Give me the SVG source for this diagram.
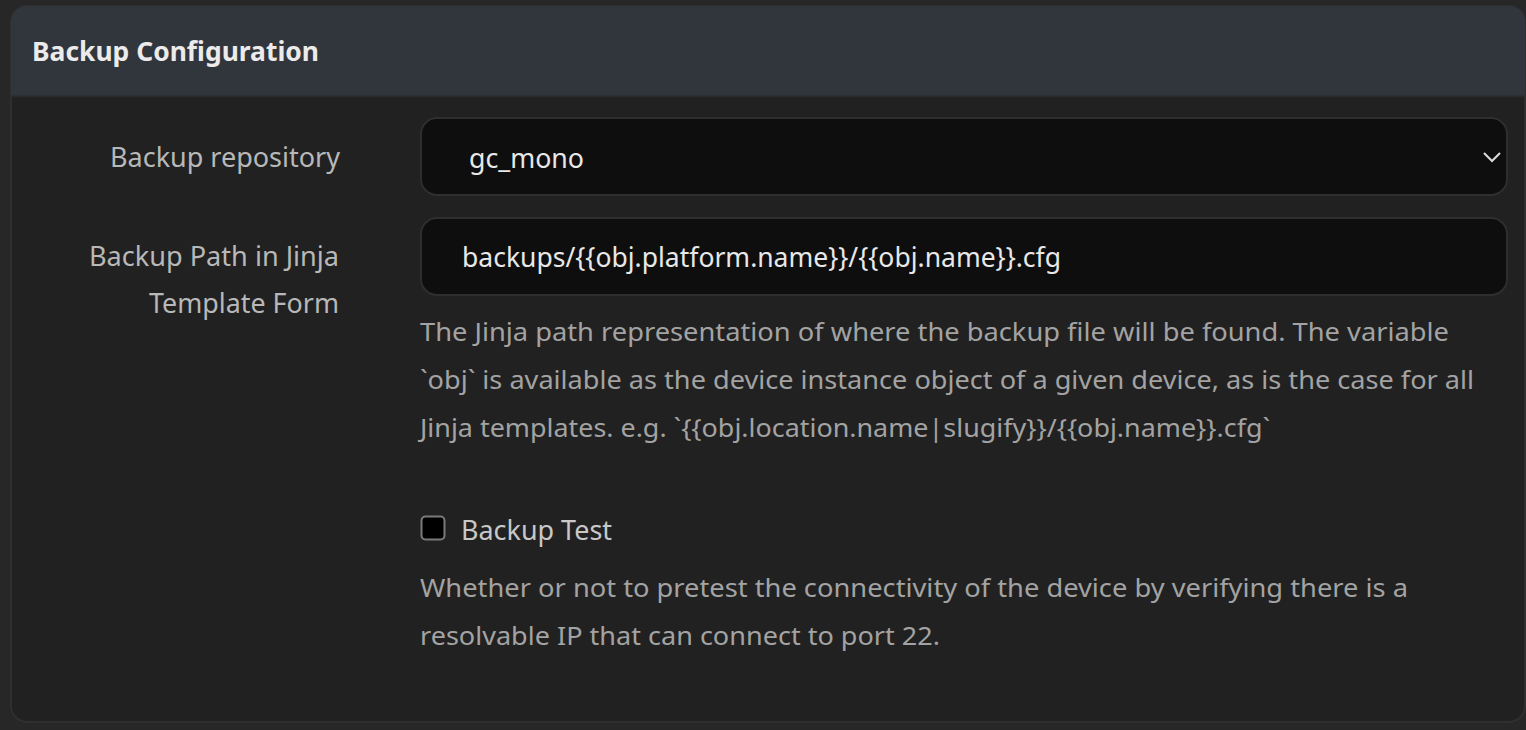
<svg xmlns="http://www.w3.org/2000/svg" width="1526" height="730" viewBox="0 0 1526 730">
<style>
text{font-family:"Noto Sans","Open Sans","Liberation Sans",sans-serif}
.hdr{font-size:27px;font-weight:700;fill:#ebebeb}
.lbl{font-size:27px;fill:#b8b8b8;text-anchor:end}
.val{font-size:27px;fill:#e8e8e8}
.help{font-size:26px;fill:#a3a3a3}
.box{fill:#0e0e0e;stroke:#2e2e2e;stroke-width:2}
</style>
<rect x="0" y="0" width="1526" height="730" fill="#272727"/>
<g id="panel">
<rect x="11" y="6" width="1514" height="716" rx="16" fill="#212121" stroke="#2f2f2f" stroke-width="2"/>
<path d="M11 96 V22 A16 16 0 0 1 27 6 H1509 A16 16 0 0 1 1525 22 V96 Z" fill="#31353c"/>
<line x1="11" y1="96.5" x2="1525" y2="96.5" stroke="#2a2a2a" stroke-width="2"/>
<text class="hdr" x="32" y="61" textLength="287" lengthAdjust="spacingAndGlyphs">Backup Configuration</text>
</g>
<g id="repo">
<text class="lbl" x="340" y="167" textLength="230" lengthAdjust="spacingAndGlyphs">Backup repository</text>
<rect class="box" x="421" y="118" width="1086" height="77" rx="16"/>
<text class="val" x="469" y="168" textLength="115" lengthAdjust="spacingAndGlyphs">gc_mono</text>
<path d="M1484 153 L1492 161 L1500 153" fill="none" stroke="#dcdcdc" stroke-width="2"/>
</g>
<g id="path">
<text class="lbl" x="339" y="266" textLength="250" lengthAdjust="spacingAndGlyphs">Backup Path in Jinja</text>
<text class="lbl" x="339" y="313" textLength="190" lengthAdjust="spacingAndGlyphs">Template Form</text>
<rect class="box" x="421" y="218" width="1086" height="77" rx="16"/>
<text class="val" x="462" y="267" textLength="599" lengthAdjust="spacingAndGlyphs">backups/{{obj.platform.name}}/{{obj.name}}.cfg</text>
<text class="help" x="420" y="341" textLength="1029" lengthAdjust="spacingAndGlyphs">The Jinja path representation of where the backup file will be found. The variable</text>
<text class="help" x="420" y="389" textLength="1054" lengthAdjust="spacingAndGlyphs">`obj` is available as the device instance object of a given device, as is the case for all</text>
<text class="help" x="420" y="437" textLength="850" lengthAdjust="spacingAndGlyphs">Jinja templates. e.g. `{{obj.location.name|slugify}}/{{obj.name}}.cfg`</text>
</g>
<g id="test">
<rect x="421.5" y="516.5" width="23" height="23" rx="4" fill="#000" stroke="#7a7a7a" stroke-width="2"/>
<text class="val" x="461" y="540" style="fill:#c8c8c8" textLength="151" lengthAdjust="spacingAndGlyphs">Backup Test</text>
<text class="help" x="420" y="597" textLength="988" lengthAdjust="spacingAndGlyphs">Whether or not to pretest the connectivity of the device by verifying there is a</text>
<text class="help" x="420" y="645" textLength="520" lengthAdjust="spacingAndGlyphs">resolvable IP that can connect to port 22.</text>
</g>
<g id="connectors"/>
</svg>
